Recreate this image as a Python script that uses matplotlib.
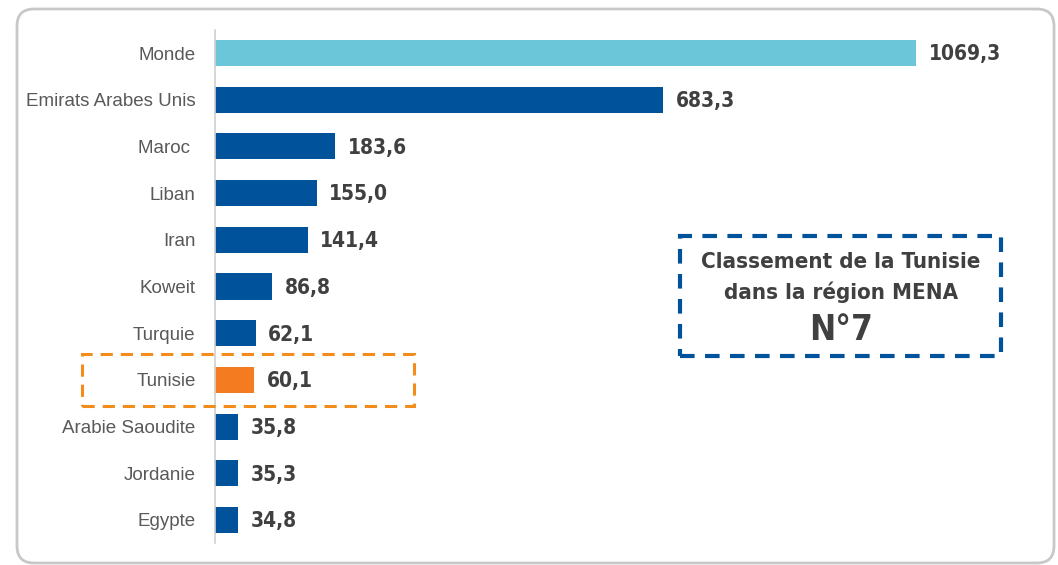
import matplotlib.pyplot as plt
from matplotlib.patches import FancyBboxPatch, Rectangle

# données
pays = ["Monde", "Emirats Arabes Unis", "Maroc ", "Liban", "Iran", "Koweit",
        "Turquie", "Tunisie", "Arabie Saoudite", "Jordanie", "Egypte"]
valeurs = [1069.3, 683.3, 183.6, 155.0, 141.4, 86.8, 62.1, 60.1, 35.8, 35.3, 34.8]
couleurs = ["#6BC6DA"] + ["#00529B"] * 6 + ["#F47B20"] + ["#00529B"] * 3

W, H = 1058, 565
fig = plt.figure(figsize=(W / 100, H / 100), dpi=100)

# cadre arrondi (unités : pouces, 1 px = 0.01)
cadre = FancyBboxPatch((0.17, 0.02), 10.37, 5.54,
                       boxstyle="round,pad=0,rounding_size=0.17",
                       transform=fig.dpi_scale_trans, fill=False,
                       edgecolor="#C8C8C8", linewidth=2)
fig.patches.append(cadre)

ax = fig.add_axes([215 / W, (H - 543.35) / H, 800 / W, 513.7 / H])
y = list(range(len(pays)))
ax.barh(y, valeurs, height=0.56, color=couleurs)
ax.set_xlim(0, 800 / 0.6556)
ax.set_ylim(len(pays) - 0.5, -0.5)

for i, v in enumerate(valeurs):
    txt = f"{v:.1f}".replace(".", ",")
    ax.annotate(txt, (v, i), xytext=(9, -1), textcoords="offset points",
                va="center", ha="left", fontsize=15, fontweight="bold",
                fontstretch="condensed", color="#404040")

ax.set_yticks(y)
ax.set_yticklabels(pays, fontsize=13.5, color="#595959", family="Liberation Sans")
ax.tick_params(axis="y", length=0, pad=14)
ax.set_xticks([])
for s in ["top", "right", "bottom"]:
    ax.spines[s].set_visible(False)
ax.spines["left"].set_color("#D0D0D0")
ax.spines["left"].set_linewidth(1.2)

# encadré Tunisie (orange)
fig.patches.append(Rectangle((82 / W, (H - 406) / H), 332 / W, 52 / H,
                             transform=fig.transFigure, fill=False,
                             edgecolor="#F28C1A", linewidth=2.2,
                             linestyle=(0, (4, 2.6))))

# encadré classement (bleu)
fig.patches.append(Rectangle((680 / W, (H - 356) / H), 321 / W, 120 / H,
                             transform=fig.transFigure, fill=False,
                             edgecolor="#00529B", linewidth=3,
                             linestyle=(0, (3.5, 2.5))))
fig.text(841 / W, (H - 262) / H, "Classement de la Tunisie", ha="center",
         va="center", fontsize=16, fontweight="bold", fontstretch="condensed",
         color="#404040")
fig.text(841 / W, (H - 292) / H, "dans la région MENA", ha="center",
         va="center", fontsize=16, fontweight="bold", fontstretch="condensed",
         color="#404040")
fig.text(841 / W, (H - 330) / H, "N°7", ha="center", va="center",
         fontsize=25, fontweight="bold", fontstretch="condensed", color="#404040")

fig.savefig("out.png", dpi=100)
